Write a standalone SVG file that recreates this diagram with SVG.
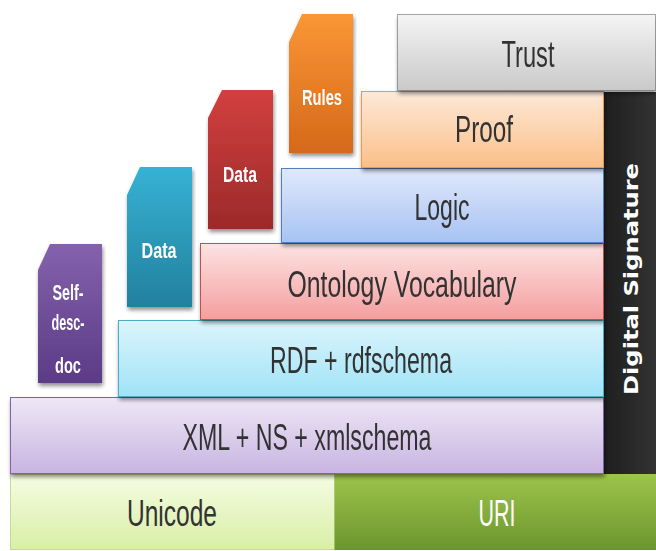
<svg xmlns="http://www.w3.org/2000/svg" width="656" height="551" viewBox="0 0 656 551">
<style>
.lbl{font-family:"Liberation Sans",Arial,sans-serif;font-size:36px;fill:#333;text-anchor:middle}
.tab{font-family:"Liberation Sans",Arial,sans-serif;font-weight:bold;font-size:22px;fill:#fff;text-anchor:middle}
.ds{font-family:"DejaVu Sans",sans-serif;font-weight:bold;font-size:19px;fill:#fff;text-anchor:middle}
</style>
<defs>
<filter id="sh" x="-5%" y="-10%" width="110%" height="130%">
<feGaussianBlur in="SourceAlpha" stdDeviation="2"/>
<feOffset dx="1" dy="3" result="b"/>
<feComponentTransfer><feFuncA type="linear" slope="0.45"/></feComponentTransfer>
<feMerge><feMergeNode/><feMergeNode in="SourceGraphic"/></feMerge>
</filter>
<linearGradient id="gTrust" x1="0" y1="0" x2="0" y2="1"><stop offset="0" stop-color="#f4f4f4"/><stop offset="1" stop-color="#c9c9c9"/></linearGradient>
<linearGradient id="gProof" x1="0" y1="0" x2="0" y2="1"><stop offset="0" stop-color="#fde9d8"/><stop offset="1" stop-color="#fbbf88"/></linearGradient>
<linearGradient id="gLogic" x1="0" y1="0" x2="0" y2="1"><stop offset="0" stop-color="#e0e9fb"/><stop offset="1" stop-color="#a7c2f3"/></linearGradient>
<linearGradient id="gOnt" x1="0" y1="0" x2="0" y2="1"><stop offset="0" stop-color="#fde3e3"/><stop offset="1" stop-color="#f49e9e"/></linearGradient>
<linearGradient id="gRdf" x1="0" y1="0" x2="0" y2="1"><stop offset="0" stop-color="#dcf5fc"/><stop offset="1" stop-color="#9fe3f7"/></linearGradient>
<linearGradient id="gXml" x1="0" y1="0" x2="0" y2="1"><stop offset="0" stop-color="#eee8f6"/><stop offset="1" stop-color="#c8b4e1"/></linearGradient>
<linearGradient id="gUni" x1="0" y1="0" x2="0" y2="1"><stop offset="0" stop-color="#f5fce2"/><stop offset="1" stop-color="#d8efa6"/></linearGradient>
<linearGradient id="gUri" x1="0" y1="0" x2="0" y2="1"><stop offset="0" stop-color="#9dc44b"/><stop offset="1" stop-color="#6b962d"/></linearGradient>
<linearGradient id="gDs" x1="0" y1="0" x2="1" y2="0"><stop offset="0" stop-color="#1e1e1e"/><stop offset="1" stop-color="#333"/></linearGradient>
<linearGradient id="gPur" x1="0" y1="0" x2="0" y2="1"><stop offset="0" stop-color="#8462ac"/><stop offset="1" stop-color="#5b3b86"/></linearGradient>
<linearGradient id="gTeal" x1="0" y1="0" x2="0" y2="1"><stop offset="0" stop-color="#36b2d4"/><stop offset="1" stop-color="#23809e"/></linearGradient>
<linearGradient id="gRed" x1="0" y1="0" x2="0" y2="1"><stop offset="0" stop-color="#d23f3f"/><stop offset="1" stop-color="#9c2a2a"/></linearGradient>
<linearGradient id="gOra" x1="0" y1="0" x2="0" y2="1"><stop offset="0" stop-color="#fa9636"/><stop offset="1" stop-color="#d5691a"/></linearGradient>
</defs>
<rect width="656" height="551" fill="#fff"/>

<g id="uri"><rect x="334" y="474" width="322" height="76" fill="url(#gUri)"/><text class="lbl" x="497" y="526" style="fill:#fff" textLength="37" lengthAdjust="spacingAndGlyphs">URI</text></g>
<g id="unicode"><rect x="10.5" y="474.5" width="324" height="75" fill="url(#gUni)" stroke="#9bbb59" stroke-dasharray="1 1"/><text class="lbl" x="172" y="526" textLength="90" lengthAdjust="spacingAndGlyphs">Unicode</text></g>

<g id="digital-signature"><rect x="604" y="92" width="52" height="382" fill="url(#gDs)"/><text class="ds" transform="translate(638,279) rotate(-90)" textLength="232" lengthAdjust="spacingAndGlyphs">Digital Signature</text></g>

<g id="xml" filter="url(#sh)"><rect x="10.5" y="397.5" width="593" height="76" fill="url(#gXml)" stroke="#8064a2"/><text class="lbl" x="307" y="450" textLength="249" lengthAdjust="spacingAndGlyphs">XML + NS + xmlschema</text></g>
<g id="rdf" filter="url(#sh)"><rect x="118.5" y="320.5" width="485" height="76" fill="url(#gRdf)" stroke="#4bacc6"/><text class="lbl" x="361" y="373" textLength="182" lengthAdjust="spacingAndGlyphs">RDF + rdfschema</text></g>
<g id="ontology" filter="url(#sh)"><rect x="200.5" y="243.5" width="403" height="76" fill="url(#gOnt)" stroke="#c0504d"/><text class="lbl" x="402" y="297" textLength="229" lengthAdjust="spacingAndGlyphs">Ontology Vocabulary</text></g>
<g id="logic" filter="url(#sh)"><rect x="281.5" y="168.5" width="322" height="74" fill="url(#gLogic)" stroke="#4f81bd"/><text class="lbl" x="442" y="220" textLength="55" lengthAdjust="spacingAndGlyphs">Logic</text></g>
<g id="proof" filter="url(#sh)"><rect x="361.5" y="91.5" width="242" height="76" fill="url(#gProof)" stroke="#f79646"/><text class="lbl" x="484" y="142" textLength="58" lengthAdjust="spacingAndGlyphs">Proof</text></g>
<g id="trust" filter="url(#sh)"><rect x="397.5" y="14.5" width="258" height="76" fill="url(#gTrust)" stroke="#555" stroke-dasharray="1 1"/><text class="lbl" x="528" y="67" textLength="53" lengthAdjust="spacingAndGlyphs">Trust</text></g>

<g id="self-desc-doc" filter="url(#sh)"><path d="M50,244 H102 V383 H38 V270 Z" fill="url(#gPur)"/><text class="tab" x="68" y="300" textLength="31" lengthAdjust="spacingAndGlyphs">Self-</text><text class="tab" x="68" y="330" textLength="33" lengthAdjust="spacingAndGlyphs">desc-</text><text class="tab" x="68" y="373" textLength="26" lengthAdjust="spacingAndGlyphs">doc</text></g>
<g id="data-teal" filter="url(#sh)"><path d="M140,167 H192 V307 H127 V195 Z" fill="url(#gTeal)"/><text class="tab" x="159" y="258" textLength="35" lengthAdjust="spacingAndGlyphs">Data</text></g>
<g id="data-red" filter="url(#sh)"><path d="M222,90 H273 V229 H208 V118 Z" fill="url(#gRed)"/><text class="tab" x="240" y="182" textLength="34" lengthAdjust="spacingAndGlyphs">Data</text></g>
<g id="rules" filter="url(#sh)"><path d="M302,14 H353 V153 H289 V42 Z" fill="url(#gOra)"/><text class="tab" x="322" y="105" textLength="40" lengthAdjust="spacingAndGlyphs">Rules</text></g>
<g id="connectors"/>
</svg>
